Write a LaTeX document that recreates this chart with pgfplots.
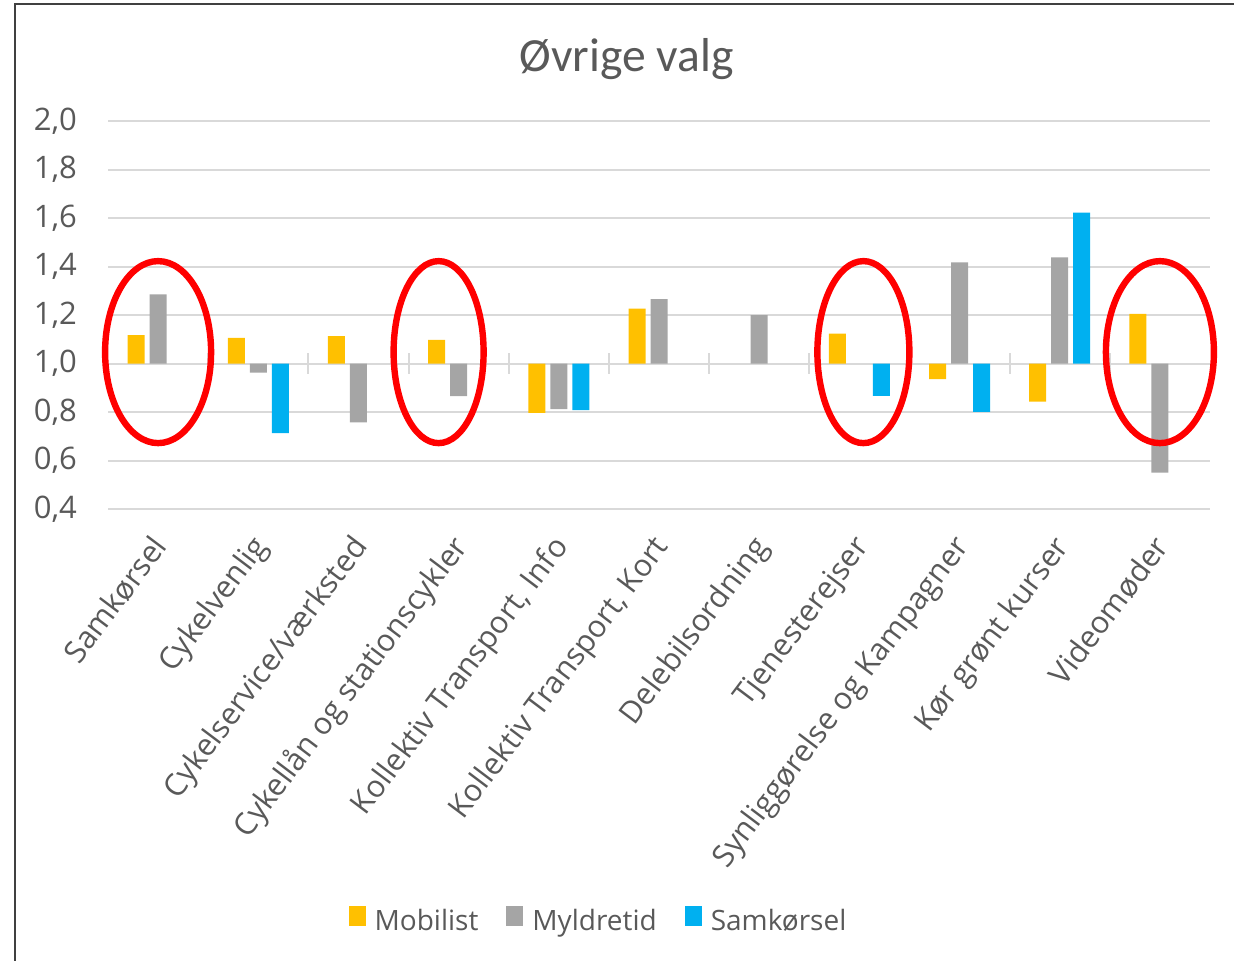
\documentclass[border=0pt]{standalone}
\usepackage{pgfplots}
\pgfplotsset{compat=1.18}
\usepackage{pgfplotstable}
\usepackage{fontspec}
\setmainfont{Open Sans}
\newfontfamily\carlito{Carlito}

\definecolor{mobil}{HTML}{FFC000}
\definecolor{myldre}{HTML}{A5A5A5}
\definecolor{samk}{HTML}{00B0F0}
\definecolor{txt}{HTML}{595959}
\definecolor{gridc}{HTML}{D9D9D9}
\definecolor{frame}{HTML}{404040}

% values as read, baseline is 1.0
\pgfplotstableread{
x v
0 1.117
1 1.106
2 1.113
3 1.097
4 0.796
5 1.226
7 1.123
8 0.936
9 0.843
10 1.205
}\mobilist
\pgfplotstableread{
x v
0 1.285
1 0.962
2 0.757
3 0.865
4 0.812
5 1.265
6 1.200
8 1.417
9 1.438
10 0.550
}\myldretid
\pgfplotstableread{
x v
1 0.713
4 0.808
7 0.867
8 0.801
9 1.622
}\samkoersel

\begin{document}
\begin{tikzpicture}
\path[use as bounding box] (0,0) rectangle (617pt,-480.5pt);
\draw[frame, line width=0.8pt] (7.5pt,-481pt) -- (7.5pt,-2pt) -- (618pt,-2pt);
\node[anchor=base, txt, font=\carlito\fontsize{23.8pt}{28pt}\selectfont] at (313.25pt,-36pt) {Øvrige valg};
\begin{axis}[
  at={(54pt,-254.5pt)}, anchor=south west,
  scale only axis, width=551pt, height=194pt,
  xmin=-0.5, xmax=10.5,
  ymin=-0.6, ymax=1.0,
  ybar=2.5pt, bar width=8.5pt,
  axis line style={draw=none},
  major tick length=0pt,
  ymajorgrids, major grid style={gridc, line width=1pt},
  ytick={-0.6,-0.4,-0.2,0,0.2,0.4,0.6,0.8,1.0},
  yticklabels={{0,4},{0,6},{0,8},{1,0},{1,2},{1,4},{1,6},{1,8},{2,0}},
  yticklabel style={txt, font=\fontsize{15.5pt}{18pt}\selectfont, xshift=-12pt},
  xtick={0,...,10},
  xticklabels={Samkørsel,Cykelvenlig,Cykelservice/værksted,Cykellån og stationscykler,{Kollektiv Transport, Info},{Kollektiv Transport, Kort},Delebilsordning,Tjenesterejser,Synliggørelse og Kampagner,Kør grønt kurser,Videomøder},
  xticklabel style={txt, font=\fontsize{15.3pt}{18pt}\selectfont, xshift=3.5pt, yshift=-15pt, rotate=53, anchor=east, text height=10.5pt, text depth=3pt, inner sep=2pt},
  clip=false,
  legend columns=-1,
  legend style={at={(0.446,-1.062)}, anchor=center, draw=none, fill=none, txt,
    font=\fontsize{14pt}{17pt}\selectfont,
    /tikz/every odd column/.append style={column sep=2.5pt},
    /tikz/every even column/.append style={column sep=12pt}},
  legend image code/.code={\fill[#1] (0pt,-2.5pt) rectangle (8.5pt,7.5pt);},
]
\pgfplotsinvokeforeach{0.5,1.5,...,9.5}{
  \draw[gridc, line width=1pt] (axis cs:#1,-0.043) -- (axis cs:#1,0.043);
}
\addplot[fill=mobil, draw=none] table[x=x, y expr=\thisrow{v}-1] {\mobilist};
\addplot[fill=myldre, draw=none] table[x=x, y expr=\thisrow{v}-1] {\myldretid};
\addplot[fill=samk, draw=none] table[x=x, y expr=\thisrow{v}-1] {\samkoersel};
\legend{Mobilist,Myldretid,Samkørsel}
\draw[red, line width=3.2pt] (axis cs:0,0.047) ellipse [x radius=26.5pt, y radius=45.5pt];
\draw[red, line width=3.2pt] (axis cs:2.8,0.047) ellipse [x radius=22.5pt, y radius=45.5pt];
\draw[red, line width=3.2pt] (axis cs:7.04,0.047) ellipse [x radius=23pt, y radius=45.5pt];
\draw[red, line width=3.2pt] (axis cs:10,0.047) ellipse [x radius=27pt, y radius=45.5pt];
\end{axis}
\end{tikzpicture}
\end{document}
